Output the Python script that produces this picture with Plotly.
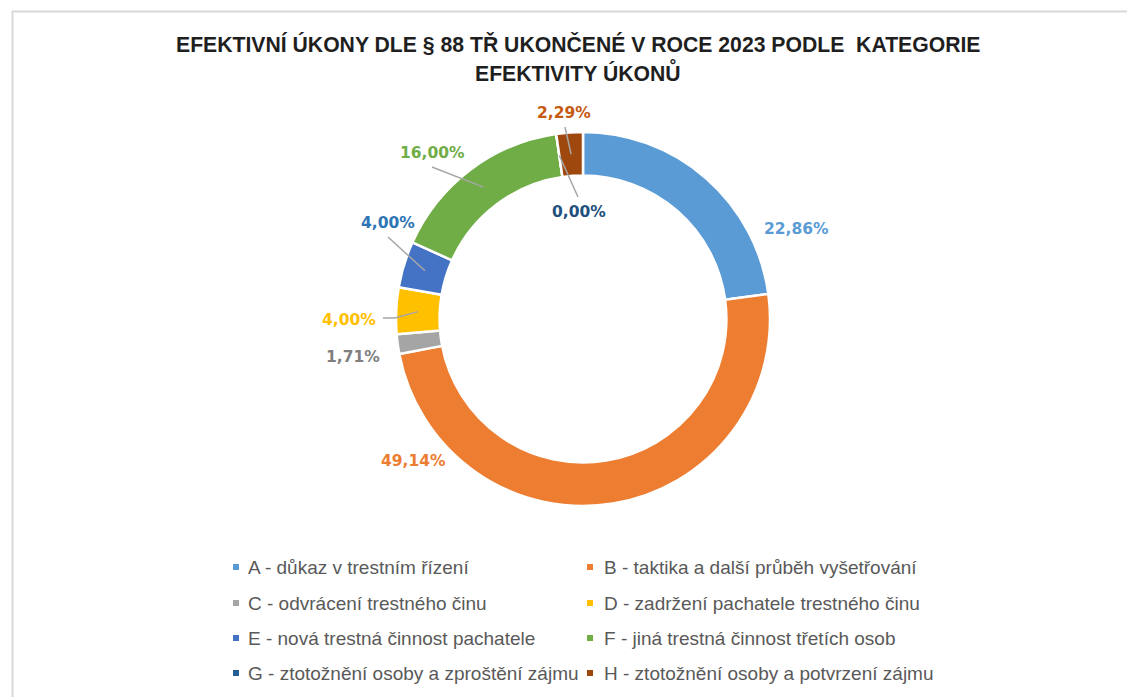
import math
import plotly.graph_objects as go

# ---------------- data ----------------
categories = [
    "A - důkaz v trestním řízení",
    "B - taktika a další průběh vyšetřování",
    "C - odvrácení trestného činu",
    "D - zadržení pachatele trestného činu",
    "E - nová trestná činnost pachatele",
    "F - jiná trestná činnost třetích osob",
    "G - ztotožnění osoby a zproštění zájmu",
    "H - ztotožnění osoby a potvrzení zájmu",
]
values = [22.86, 49.14, 1.71, 4.00, 4.00, 16.00, 0.00, 2.29]
title_lines = [
    "EFEKTIVNÍ ÚKONY DLE § 88 TŘ UKONČENÉ V ROCE 2023 PODLE  KATEGORIE",
    "EFEKTIVITY ÚKONŮ",
]

# ---------------- styles / layout constants ----------------
slice_colors = ["#5B9BD5", "#ED7D31", "#A5A5A5", "#FFC000",
                "#4472C4", "#70AD47", "#255E91", "#9E480E"]
label_colors = ["#5B9BD5", "#ED7D31", "#7F7F7F", "#FFC000",
                "#2E75B6", "#70AD47", "#22507E", "#C55A11"]

W, H = 1135, 697
OFF = 8  # page body margin of the html page
CX, CY, R = 583, 319, 187
HOLE = 0.767

# label centre positions (page pixels) and leader-line start points
label_pos = [(796, 229), (413, 461), (353, 357), (349, 320),
             (388, 223), (432, 153), (579, 212), (564, 113)]
leader_start = [None, None, None, [(383, 318), (395, 318)],
                [(388, 237)], [(432, 167)], [(578, 197)], [(565, 127)]]

legend_rows_y = [567, 603, 638, 673]
legend_sq_x = [236, 590]
legend_txt_x = [246, 602]


def px(x):
    return (x - OFF) / W


def py(y):
    return 1 - (y - OFF) / H


fig = go.Figure(go.Pie(
    labels=categories,
    values=values,
    hole=HOLE,
    sort=False,
    direction="clockwise",
    rotation=0,
    marker=dict(colors=slice_colors, line=dict(color="white", width=2.5)),
    textinfo="none",
    hoverinfo="label+percent",
    showlegend=False,
    domain=dict(x=[px(CX - R), px(CX + R)], y=[py(CY + R), py(CY - R)]),
))

annotations = []
shapes = []

# title
for line, yy in zip(title_lines, [44, 72]):
    annotations.append(dict(
        x=px(578), y=py(yy), xref="paper", yref="paper",
        text=f"<b>{line}</b>", showarrow=False,
        xanchor="center", yanchor="middle",
        font=dict(family="Liberation Sans", size=21.2, color="#1F1F1F"),
    ))

# data labels with leader lines
total = sum(values)
cum = 0.0
r_mid = R * (1 + HOLE) / 2
for i, v in enumerate(values):
    mid = 360.0 * (cum + v / 2) / total
    cum += v
    txt = f"{v:.2f}".replace(".", ",") + "%"
    lx, ly = label_pos[i]
    annotations.append(dict(
        x=px(lx), y=py(ly), xref="paper", yref="paper",
        text=f"<b>{txt}</b>", showarrow=False,
        xanchor="center", yanchor="middle",
        font=dict(family="DejaVu Sans", size=15.5, color=label_colors[i]),
    ))
    if leader_start[i]:
        ex = CX + r_mid * math.sin(math.radians(mid))
        ey = CY - r_mid * math.cos(math.radians(mid))
        pts = leader_start[i] + [(ex, ey)]
        path = "M " + " L ".join(f"{px(a)},{py(b)}" for a, b in pts)
        shapes.append(dict(type="path", xref="paper", yref="paper",
                           path=path, line=dict(color="#A6A6A6", width=1.5)))

# legend (two columns)
for i, (cat, col) in enumerate(zip(categories, slice_colors)):
    c, r = i % 2, i // 2
    yy = legend_rows_y[r]
    sx = legend_sq_x[c]
    shapes.append(dict(type="rect", xref="paper", yref="paper",
                       x0=px(sx - 3), x1=px(sx + 3), y0=py(yy + 3), y1=py(yy - 3),
                       fillcolor=col, line=dict(width=0)))
    annotations.append(dict(
        x=px(legend_txt_x[c]), y=py(yy), xref="paper", yref="paper",
        text=cat, showarrow=False, xanchor="left", yanchor="middle",
        font=dict(family="Liberation Sans", size=19, color="#595959"),
    ))

# outer chart frame
shapes.append(dict(type="rect", xref="paper", yref="paper",
                   x0=px(12.5), y0=py(720), x1=px(1160), y1=py(11.5),
                   line=dict(color="#D9D9D9", width=2), fillcolor="rgba(0,0,0,0)"))

fig.update_layout(
    width=W, height=H,
    margin=dict(l=0, r=0, t=0, b=0),
    paper_bgcolor="white", plot_bgcolor="white",
    annotations=annotations, shapes=shapes,
)

fig.write_html("out.html")
